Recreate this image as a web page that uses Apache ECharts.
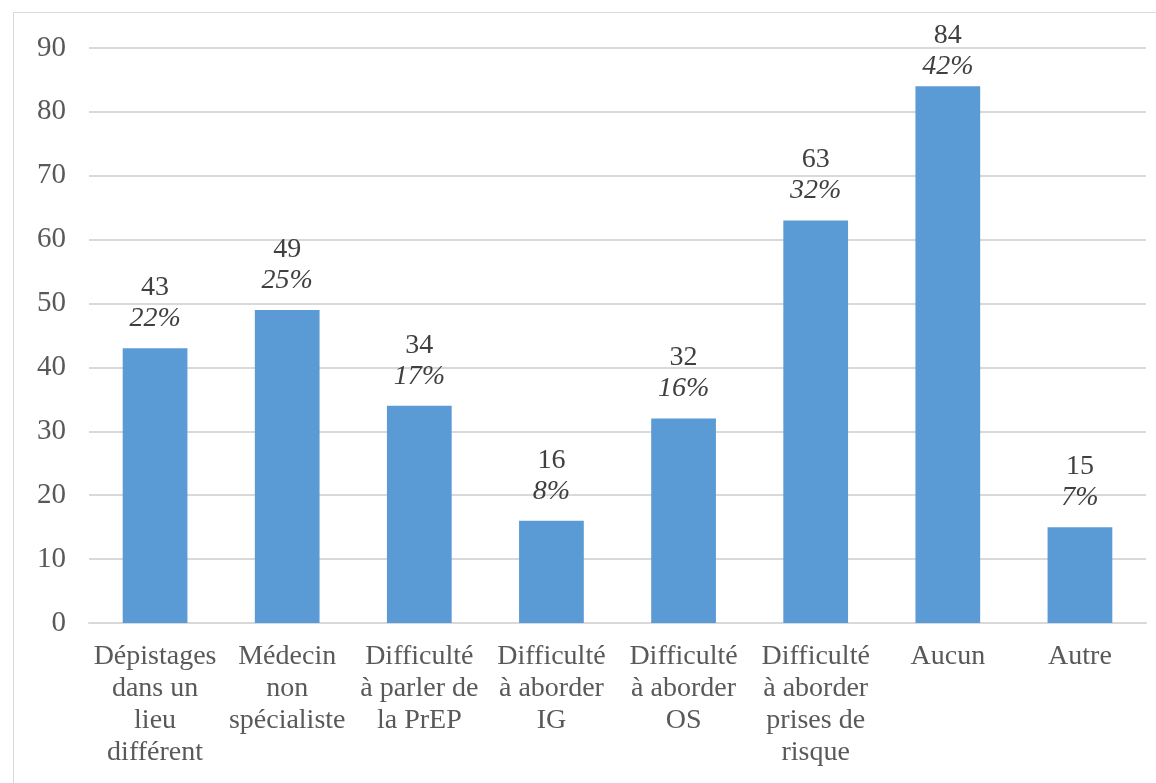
<!DOCTYPE html>
<html>
<head>
<meta charset="utf-8">
<script src="https://cdn.jsdelivr.net/npm/echarts@6/dist/echarts.min.js"></script>
<style>
html, body { margin: 0; padding: 0; background: #fff; }
#frame { position: absolute; left: 13px; top: 12px; width: 1160px; height: 790px; border: 1.5px solid #d9d9d9; box-sizing: border-box; }
#chart { position: absolute; left: 0; top: 0; width: 1156px; height: 783px; }
</style>
</head>
<body>
<div id="frame"></div>
<div id="chart"></div>
<script>
var categories = [
    'Dépistages\ndans un\nlieu\ndifférent',
    'Médecin\nnon\nspécialiste',
    'Difficulté\nà parler de\nla PrEP',
    'Difficulté\nà aborder\nIG',
    'Difficulté\nà aborder\nOS',
    'Difficulté\nà aborder\nprises de\nrisque',
    'Aucun',
    'Autre'
];
var counts = [43, 49, 34, 16, 32, 63, 84, 15];
var percents = ['22%', '25%', '17%', '8%', '16%', '32%', '42%', '7%'];
var yTicks = [0, 10, 20, 30, 40, 50, 60, 70, 80, 90];

var font = '"Liberation Serif", "Times New Roman", serif';
var maxCount = Math.max.apply(null, counts);

// la plus haute étiquette est resserrée contre la barre (comme dans l'original)
var barData = counts.map(function (v) {
    return v === maxCount ? { value: v, label: { distance: 4 } } : v;
});

var myChart = echarts.init(document.getElementById('chart'));
myChart.setOption({
    animation: false,
    textStyle: { fontFamily: font },
    grid: { left: 89, right: 10, top: 48, bottom: 160 },
    xAxis: {
        type: 'category',
        data: categories,
        axisTick: { show: false },
        axisLine: { lineStyle: { color: '#d9d9d9', width: 2 } },
        axisLabel: {
            interval: 0,
            margin: 18,
            fontFamily: font,
            fontSize: 28,
            lineHeight: 32,
            color: '#595959'
        }
    },
    yAxis: {
        type: 'value',
        min: yTicks[0],
        max: yTicks[yTicks.length - 1],
        interval: 10,
        axisLine: { show: false },
        axisTick: { show: false },
        splitLine: { lineStyle: { color: '#d9d9d9', width: 2 } },
        axisLabel: {
            margin: 23,
            fontFamily: font,
            fontSize: 29,
            color: '#595959'
        }
    },
    series: [{
        type: 'bar',
        barWidth: '49%',
        itemStyle: { color: '#5b9bd5' },
        data: barData,
        label: {
            show: true,
            position: 'top',
            distance: 14,
            formatter: function (p) {
                return '{n|' + p.value + '}\n{p|' + percents[p.dataIndex] + '}';
            },
            rich: {
                n: { fontFamily: font, fontSize: 28, color: '#404040', lineHeight: 31 },
                p: { fontFamily: font, fontSize: 28, fontStyle: 'italic', color: '#404040', lineHeight: 31 }
            }
        }
    }]
});
</script>
</body>
</html>
